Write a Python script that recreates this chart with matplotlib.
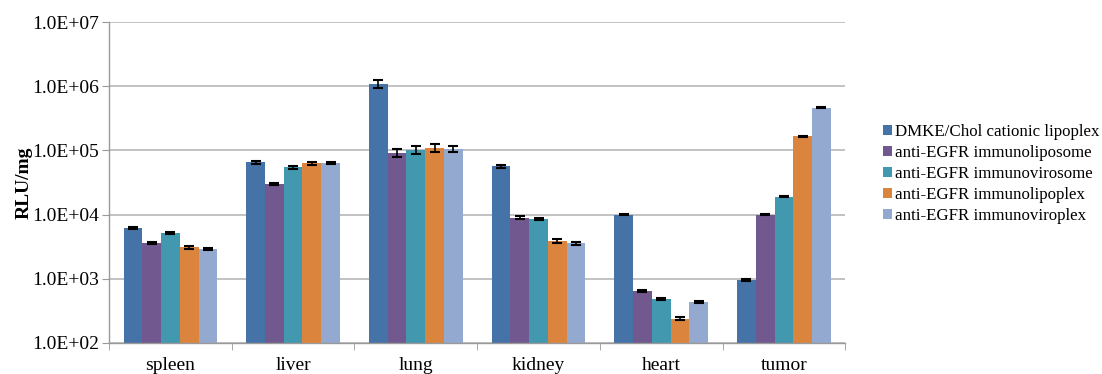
import matplotlib
matplotlib.use("Agg")
import matplotlib.pyplot as plt
import numpy as np
from matplotlib.ticker import FixedLocator, NullLocator

plt.rcParams['font.family'] = ['Liberation Serif', 'DejaVu Serif']

categories = ["spleen", "liver", "lung", "kidney", "heart", "tumor"]
series_names = ["DMKE/Chol cationic lipoplex", "anti-EGFR immunoliposome",
                "anti-EGFR immunovirosome", "anti-EGFR immunolipoplex",
                "anti-EGFR immunoviroplex"]
dmke = [6200, 65000, 1100000, 57000, 10000, 950]
immunoliposome = [3600, 30000, 92000, 9000, 650, 10000]
immunovirosome = [5200, 55000, 103000, 8500, 480, 19000]
immunolipoplex = [3100, 63000, 110000, 3900, 240, 165000]
immunoviroplex = [2900, 64000, 106000, 3550, 440, 460000]
dmke_err = [200, 4000, 150000, 3000, 300, 40]
immunoliposome_err = [150, 1500, 12000, 400, 20, 300]
immunovirosome_err = [200, 3000, 15000, 400, 15, 400]
immunolipoplex_err = [150, 4000, 15000, 250, 10, 3000]
immunoviroplex_err = [120, 3000, 13000, 150, 15, 8000]
ytick_labels = ["1.0E+02", "1.0E+03", "1.0E+04", "1.0E+05", "1.0E+06", "1.0E+07"]

series = [dmke, immunoliposome, immunovirosome, immunolipoplex, immunoviroplex]
errs = [dmke_err, immunoliposome_err, immunovirosome_err, immunolipoplex_err, immunoviroplex_err]
colors = ["#4572A7", "#71588F", "#4198AF", "#DB843D", "#93A9CF"]

fig = plt.figure(figsize=(11.02, 3.74), dpi=100)
ax = fig.add_axes([0.099, 0.083, 0.668, 0.858])

n = len(series)
bw = 1.0 / (n + 1.55)
x = np.arange(len(categories))
for i, (vals, e, c, name) in enumerate(zip(series, errs, colors, series_names)):
    pos = x + (i - (n - 1) / 2) * bw
    ax.bar(pos, vals, width=bw, color=c, label=name, zorder=2, bottom=1e-9)
    ax.errorbar(pos, vals, yerr=e, fmt='none', ecolor='black', elinewidth=1.2,
                capsize=3.5, capthick=1.5, zorder=3)

ax.set_yscale('log')
ax.set_ylim(100, 1e7)
ax.set_xlim(-0.5, len(categories) - 0.5)
ax.yaxis.set_major_locator(FixedLocator([1e2, 1e3, 1e4, 1e5, 1e6, 1e7]))
ax.yaxis.set_minor_locator(NullLocator())
ax.set_yticklabels(ytick_labels, fontsize=14)
ax.grid(axis='y', color='#b8b8b8', linewidth=1.2, zorder=0)
ax.set_axisbelow(True)

ax.set_xticks(x)
ax.set_xticklabels(categories, fontsize=14)
ax.tick_params(axis='x', which='major', length=0, pad=10)
ax.set_xticks(np.arange(len(categories) + 1) - 0.5, minor=True)
ax.tick_params(axis='x', which='minor', length=5, color='#999999', direction='out')
ax.tick_params(axis='y', length=5, color='#999999', pad=2)

for s in ['top', 'right']:
    ax.spines[s].set_visible(False)
for s in ['left', 'bottom']:
    ax.spines[s].set_color('#999999')
    ax.spines[s].set_linewidth(1.0)

ax.set_ylabel("RLU/mg", fontsize=14, fontweight='bold', labelpad=0)

leg = ax.legend(loc='center left', bbox_to_anchor=(1.042, 0.527), frameon=False,
                fontsize=12.2, handlelength=0.55, handleheight=0.55,
                handletextpad=0.15, labelspacing=0.3, borderaxespad=0)

fig.savefig("out.png", dpi=100)
